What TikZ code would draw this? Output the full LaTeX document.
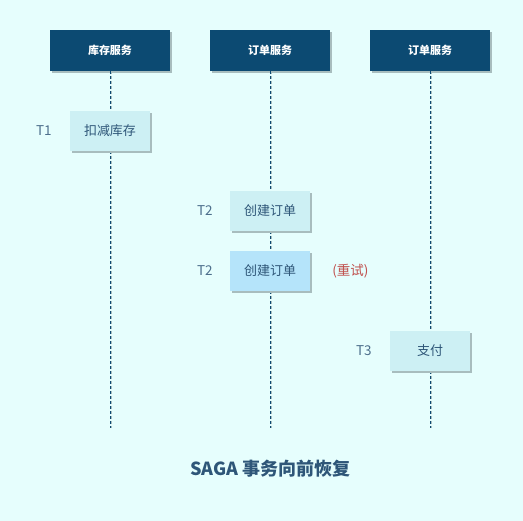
\documentclass[tikz,border=0pt]{standalone}
\usepackage{fontspec}
\setmainfont{Noto Sans CJK SC}
\usetikzlibrary{positioning,shadows}

\definecolor{bgcol}{HTML}{E6FEFD}
\definecolor{headcol}{HTML}{0C4A72}
\definecolor{actcol}{HTML}{CDF0F4}
\definecolor{retrycol}{HTML}{B5E4FA}
\definecolor{txtcol}{HTML}{2E5678}
\definecolor{redcol}{HTML}{C0504D}
\definecolor{shadecol}{HTML}{A8BDBE}

\begin{document}
\begin{tikzpicture}[
    x=1pt, y=-1pt,
    every node/.style={inner sep=0pt, align=center},
    header/.style={draw=none, fill=headcol, minimum width=120pt, minimum height=41pt,
        text=white, font=\fontsize{11}{12}\selectfont\bfseries,
        drop shadow={shadow xshift=2pt, shadow yshift=-2pt, fill=shadecol, opacity=1}},
    act/.style={draw=none, fill=actcol, minimum width=80pt, minimum height=40pt,
        text=txtcol, font=\fontsize{13}{14}\selectfont,
        drop shadow={shadow xshift=2pt, shadow yshift=-2pt, fill=shadecol, opacity=1}},
    retry/.style={act, fill=retrycol},
    tlabel/.style={text=txtcol!85, font=\fontsize{13.5}{14}\selectfont},
    lifeline/.style={draw=headcol, line width=0.8pt, dash pattern=on 3pt off 2pt},
    lifeshade/.style={draw=shadecol, line width=0.8pt, dash pattern=on 3pt off 2pt}
]

% background and page size
\fill[bgcol] (0,0) rectangle (523,521);
\useasboundingbox (0,0) rectangle (523,521);

% services
\node[header] (stock) at (110,50.5) {库存服务};
\node[header] (order) at (270,50.5) {订单服务};
\node[header] (pay)   at (430,50.5) {订单服务};

% lifeline ends
\coordinate (stockend) at (110,428);
\coordinate (orderend) at (270,428);
\coordinate (payend)   at (430,428);

% lifelines
\foreach \s in {stock,order,pay}{
    \draw[lifeshade] ([xshift=1.5pt]\s.south) -- ([xshift=1.5pt]\s end);
    \draw[lifeline] (\s.south) -- (\s end);
}

% steps
\node[act] (deduct) at (110,131) {扣减库存};
\node[act] (create) at (270,211) {创建订单};
\node[retry] (recreate) at (270,271) {创建订单};
\node[act] (paystep) at (430,351) {支付};

% step labels
\node[tlabel, left=18pt of deduct] (t1) {T1};
\node[tlabel, left=17pt of create] (t2a) {T2};
\node[tlabel, left=17pt of recreate] (t2b) {T2};
\node[tlabel, left=18pt of paystep] (t3) {T3};
\node[tlabel, text=redcol, right=22pt of recreate] (again) {(重试)};

% title
\node[text=txtcol, font=\fontsize{18}{19}\selectfont\bfseries] (title) at (270.5,469) {SAGA 事务向前恢复};

\end{tikzpicture}
\end{document}
